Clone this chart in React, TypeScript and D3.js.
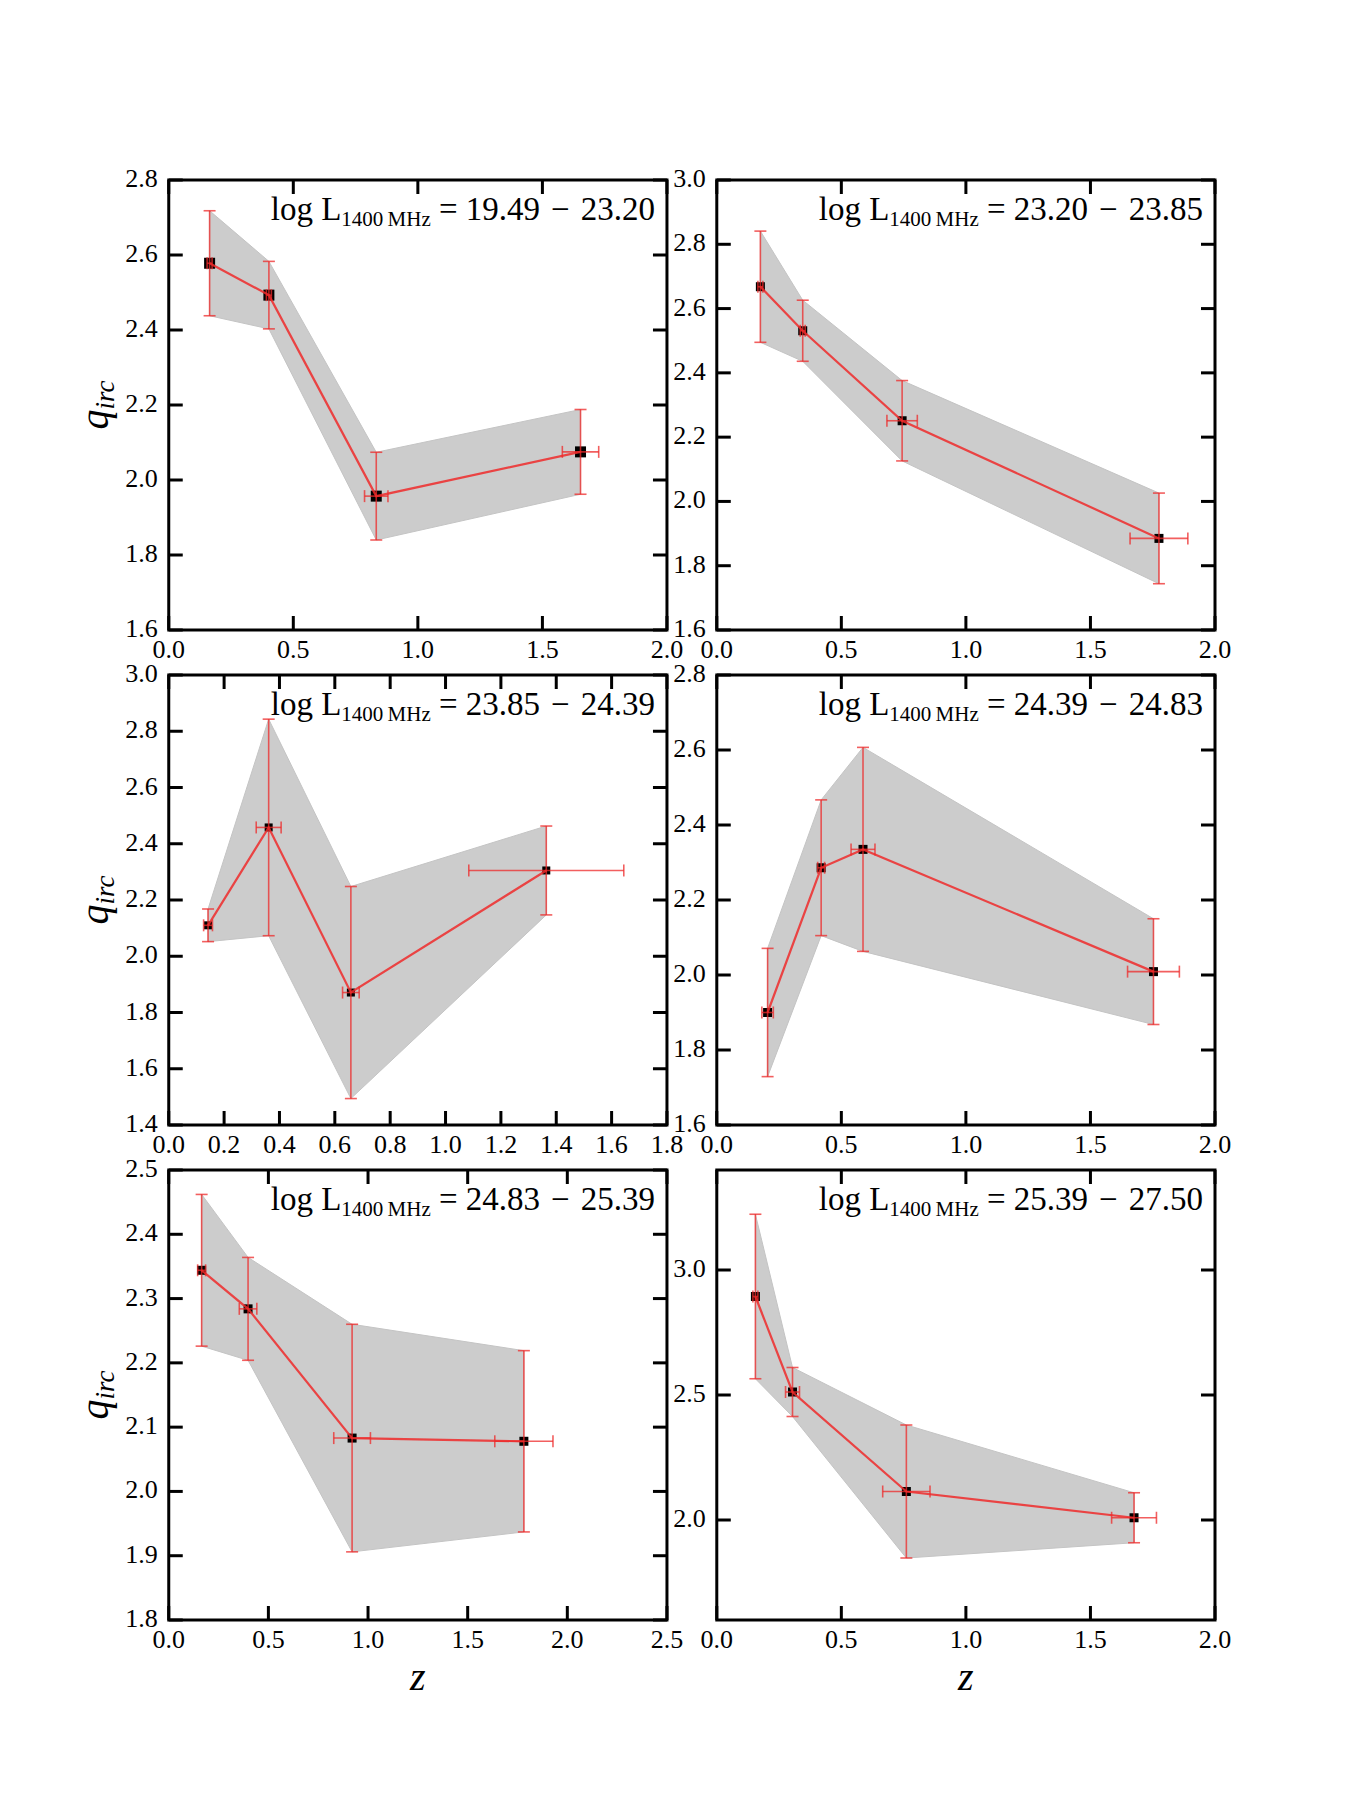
import React from "react";
import * as d3 from "d3";

const FIG_W = 1350;
const FIG_H = 1800;

// redshift bin centre, half width, q_irc and its error, one set per luminosity bin
const zA = [0.164, 0.402, 0.833, 1.653];
const zErrA = [0.01, 0.01, 0.047, 0.073];
const qA = [2.578, 2.493, 1.957, 2.075];
const qErrA = [0.14, 0.09, 0.117, 0.113];

const zB = [0.175, 0.345, 0.744, 1.775];
const zErrB = [0.01, 0.01, 0.061, 0.116];
const qB = [2.668, 2.531, 2.251, 1.885];
const qErrB = [0.173, 0.095, 0.125, 0.141];

const zC = [0.142, 0.361, 0.658, 1.364];
const zErrC = [0.016, 0.045, 0.03, 0.28];
const qC = [2.11, 2.458, 1.871, 2.305];
const qErrC = [0.058, 0.385, 0.377, 0.158];

const zD = [0.204, 0.419, 0.587, 1.753];
const zErrD = [0.023, 0.014, 0.048, 0.104];
const qD = [1.9, 2.286, 2.335, 2.009];
const qErrD = [0.171, 0.181, 0.272, 0.141];

const zE = [0.165, 0.398, 0.92, 1.782];
const zErrE = [0.02, 0.044, 0.092, 0.146];
const qE = [2.344, 2.284, 2.083, 2.078];
const qErrE = [0.118, 0.08, 0.177, 0.141];

const zF = [0.155, 0.304, 0.761, 1.675];
const zErrF = [0.01, 0.028, 0.095, 0.09];
const qF = [2.894, 2.512, 2.114, 2.009];
const qErrF = [0.329, 0.098, 0.266, 0.1];

const lumLow = ["19.49", "23.20", "23.85", "24.39", "24.83", "25.39"];
const lumHigh = ["23.20", "23.85", "24.39", "24.83", "25.39", "27.50"];

const xDomains = [[0, 2], [0, 2], [0, 1.8], [0, 2], [0, 2.5], [0, 2]];
const yDomains = [[1.6, 2.8], [1.6, 3.0], [1.4, 3.0], [1.6, 2.8], [1.8, 2.5], [1.6, 3.4]];

const xTicks = [
  [0, 0.5, 1, 1.5, 2],
  [0, 0.5, 1, 1.5, 2],
  [0, 0.2, 0.4, 0.6, 0.8, 1.0, 1.2, 1.4, 1.6, 1.8],
  [0, 0.5, 1, 1.5, 2],
  [0, 0.5, 1, 1.5, 2, 2.5],
  [0, 0.5, 1, 1.5, 2],
];
const yTicks = [
  [1.6, 1.8, 2.0, 2.2, 2.4, 2.6, 2.8],
  [1.6, 1.8, 2.0, 2.2, 2.4, 2.6, 2.8, 3.0],
  [1.4, 1.6, 1.8, 2.0, 2.2, 2.4, 2.6, 2.8, 3.0],
  [1.6, 1.8, 2.0, 2.2, 2.4, 2.6, 2.8],
  [1.8, 1.9, 2.0, 2.1, 2.2, 2.3, 2.4, 2.5],
  [2.0, 2.5, 3.0],
];

const series = [
  { z: zA, zErr: zErrA, q: qA, qErr: qErrA },
  { z: zB, zErr: zErrB, q: qB, qErr: qErrB },
  { z: zC, zErr: zErrC, q: qC, qErr: qErrC },
  { z: zD, zErr: zErrD, q: qD, qErr: qErrD },
  { z: zE, zErr: zErrE, q: qE, qErr: qErrE },
  { z: zF, zErr: zErrF, q: qF, qErr: qErrF },
];
const markerSize = [11, 9, 8, 9, 9, 9];

// subplot grid: left .125, right .9, top .9, bottom .1, wspace = hspace = .1
const left = 0.125 * FIG_W;
const top = 0.1 * FIG_H;
const pw = (0.9 * FIG_W - left) / 2.1;
const ph = (0.8 * FIG_H) / 3.2;

const FONT = "'Liberation Serif', 'DejaVu Serif', serif";
const RED = "#ee2a2a";
const fmt = d3.format(".1f");
const TICK = 14;
const CAP = 6;

function Panel({ idx }: { idx: number }) {
  const col = idx % 2;
  const row = Math.floor(idx / 2);
  const x0 = left + col * pw * 1.1;
  const y0 = top + row * ph * 1.1;
  const s = series[idx];
  const pts = s.z.map((z, i) => ({ z, ze: s.zErr[i], q: s.q[i], qe: s.qErr[i] }));

  const x = d3.scaleLinear().domain(xDomains[idx]).range([0, pw]);
  const y = d3.scaleLinear().domain(yDomains[idx]).range([ph, 0]);

  const band = d3
    .area<any>()
    .x((d) => x(d.z))
    .y0((d) => y(d.q - d.qe))
    .y1((d) => y(d.q + d.qe));
  const line = d3
    .line<any>()
    .x((d) => x(d.z))
    .y((d) => y(d.q));

  const m = markerSize[idx];

  return (
    <g transform={`translate(${x0},${y0})`}>
      <path d={band(pts) || ""} fill="#cccccc" stroke="#c4c4c4" strokeWidth={1} />

      {pts.map((d, i) => (
        <rect key={"m" + i} x={x(d.z) - m / 2} y={y(d.q) - m / 2} width={m} height={m} fill="#000" />
      ))}

      {pts.map((d, i) => {
        const cx = x(d.z);
        const cy = y(d.q);
        const yt = y(d.q + d.qe);
        const yb = y(d.q - d.qe);
        const xl = x(d.z - d.ze);
        const xr = x(d.z + d.ze);
        return (
          <g key={"e" + i} stroke={RED} strokeOpacity={0.75} strokeWidth={1.6} fill="none">
            <line x1={cx} x2={cx} y1={yt} y2={yb} />
            <line x1={cx - CAP} x2={cx + CAP} y1={yt} y2={yt} />
            <line x1={cx - CAP} x2={cx + CAP} y1={yb} y2={yb} />
            <line x1={xl} x2={xr} y1={cy} y2={cy} />
            <line x1={xl} x2={xl} y1={cy - CAP} y2={cy + CAP} />
            <line x1={xr} x2={xr} y1={cy - CAP} y2={cy + CAP} />
          </g>
        );
      })}

      <path d={line(pts) || ""} fill="none" stroke={RED} strokeOpacity={0.85} strokeWidth={2.2} />

      {/* ticks point inward on all four sides */}
      {xTicks[idx].map((t) => (
        <g key={"xt" + t} stroke="#000" strokeWidth={3}>
          <line x1={x(t)} x2={x(t)} y1={ph} y2={ph - TICK} />
          <line x1={x(t)} x2={x(t)} y1={0} y2={TICK} />
        </g>
      ))}
      {yTicks[idx].map((t) => (
        <g key={"yt" + t} stroke="#000" strokeWidth={3}>
          <line x1={0} x2={TICK} y1={y(t)} y2={y(t)} />
          <line x1={pw} x2={pw - TICK} y1={y(t)} y2={y(t)} />
        </g>
      ))}
      <rect x={0} y={0} width={pw} height={ph} fill="none" stroke="#000" strokeWidth={3} />

      {xTicks[idx].map((t) => (
        <text key={"xl" + t} x={x(t)} y={ph + 28} textAnchor="middle" fontSize={26} fontFamily={FONT}>
          {fmt(t)}
        </text>
      ))}
      {yTicks[idx].map((t) => (
        <text key={"yl" + t} x={-11} y={y(t) + 7} textAnchor="end" fontSize={26} fontFamily={FONT}>
          {fmt(t)}
        </text>
      ))}

      <text x={pw - 12} y={40} textAnchor="end" fontSize={33} fontFamily={FONT}>
        <tspan>log L</tspan>
        <tspan fontSize={21} dy={6}>1400{"\u2009"}MHz</tspan>
        <tspan dy={-6}>{`\u2005=\u2005${lumLow[idx]}\u2004\u2212\u2004${lumHigh[idx]}`}</tspan>
      </text>

      {col === 0 && (
        <text
          transform={`translate(${108 - x0},${ph / 2}) rotate(-90)`}
          textAnchor="middle"
          fontSize={40}
          fontStyle="italic"
          fontFamily={FONT}
        >
          <tspan>q</tspan>
          <tspan fontSize={27} dy={6}>irc</tspan>
        </text>
      )}
      {row === 2 && (
        <text x={pw / 2} y={ph + 70} textAnchor="middle" fontSize={40} fontStyle="italic" fontFamily={FONT}>
          z
        </text>
      )}
    </g>
  );
}

export default function App() {
  return (
    <svg
      width={FIG_W}
      height={FIG_H}
      viewBox={`0 0 ${FIG_W} ${FIG_H}`}
      style={{ position: "absolute", left: 0, top: 0, display: "block", background: "#fff" }}
    >
      <rect width={FIG_W} height={FIG_H} fill="#fff" />
      {series.map((_, i) => (
        <Panel key={i} idx={i} />
      ))}
    </svg>
  );
}
